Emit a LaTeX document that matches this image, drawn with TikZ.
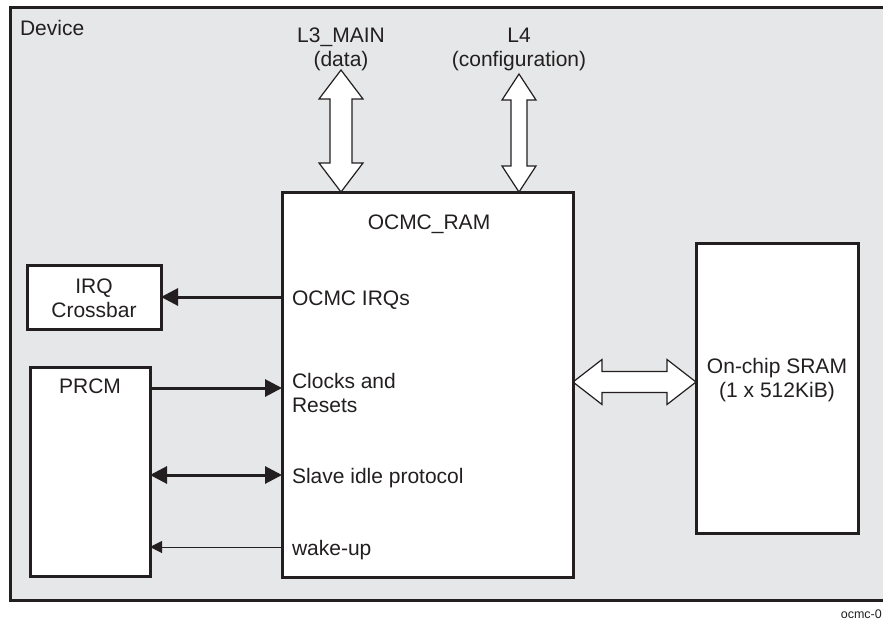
\documentclass[tikz,border=0pt]{standalone}
\usepackage{fontspec}
\setmainfont{Liberation Sans}
\usetikzlibrary{arrows.meta}
\definecolor{devgray}{HTML}{E6E7E8}
\definecolor{ink}{HTML}{231F20}
\tikzset{
  blk/.style={draw=ink, line width=3pt, fill=white, inner sep=0pt, outer sep=0pt},
  lbl/.style={inner sep=0pt, outer sep=0pt, text=ink, font=\fontsize{21}{24}\selectfont},
  thick arrow/.style={draw=ink, line width=3pt, -{Triangle[length=17pt,width=17pt]}},
  thick both/.style={draw=ink, line width=3pt, {Triangle[length=17pt,width=17pt]}-{Triangle[length=17pt,width=17pt]}},
  thin arrow/.style={draw=ink, line width=1pt, -{Triangle[length=12pt,width=12pt]}},
  hollow/.style={draw=ink, line width=1.2pt, fill=white, line join=miter}
}
\begin{document}
\begin{tikzpicture}[x=1pt,y=-1pt]
\useasboundingbox (0,0) rectangle (883,623);
% device
\node[draw=ink, line width=3pt, fill=devgray, inner sep=0pt, minimum width=876pt, minimum height=592pt] (device) at (448,304) {};
\node[lbl, anchor=base west] (devlbl) at (20,36) {Device};
% hollow bus arrows
\draw[hollow] (341,70) -- (363,99) -- (352,99) -- (352,163) -- (363,163) -- (341,192) -- (319,163) -- (330,163) -- (330,99) -- (319,99) -- cycle;
\draw[hollow] (519,74) -- (536,100) -- (527,100) -- (527,166) -- (536,166) -- (519,192) -- (502,166) -- (511,166) -- (511,100) -- (502,100) -- cycle;
\draw[hollow] (573,382) -- (602,359.5) -- (602,371.5) -- (667,371.5) -- (667,359.5) -- (696,382) -- (667,404.5) -- (667,392.5) -- (602,392.5) -- (602,404.5) -- cycle;
% blocks
\node[blk, minimum width=291pt, minimum height=385pt] (ocmc) at (427.5,384.5) {};
\node[blk, minimum width=162pt, minimum height=290pt] (sram) at (777,388) {};
\node[blk, minimum width=120pt, minimum height=209pt] (prcm) at (90,471.5) {};
\node[blk, minimum width=134pt, minimum height=64pt] (irq) at (94,297) {};
% bus labels (base = last line)
\node[lbl, align=center, anchor=base] (l3) at (341,67) {L3\_MAIN\\(data)};
\node[lbl, align=center, anchor=base] (l4) at (519,67) {L4\\(configuration)};
% block labels
\node[lbl, anchor=base] (ocmclbl) at (429,229) {OCMC\_RAM};
\node[lbl, align=center, anchor=base] (sramlbl) at (777,397) {On-chip SRAM\\(1 x 512KiB)};
\node[lbl, align=center, anchor=base] (irqlbl) at (94,317) {IRQ\\Crossbar};
\node[lbl, anchor=base] (prcmlbl) at (90,393) {PRCM};
% port labels
\node[lbl, anchor=base west] (irqs) at (292,305) {OCMC IRQs};
\node[lbl, align=left, anchor=base west] (clk) at (292,412) {Clocks and\\Resets};
\node[lbl, anchor=base west] (idle) at (292,483) {Slave idle protocol};
\node[lbl, anchor=base west] (wake) at (292,555) {wake-up};
% connectors
\coordinate (yclk) at (0,388);
\coordinate (yidle) at (0,475);
\coordinate (ywake) at (0,547);
\draw[thick arrow] (ocmc.west |- irq.east) -- (irq.east);
\draw[thick arrow] (prcm.east |- yclk) -- (ocmc.west |- yclk);
\draw[thick both] (prcm.east |- yidle) -- (ocmc.west |- yidle);
\draw[thin arrow] (ocmc.west |- ywake) -- (prcm.east |- ywake);
% figure tag
\node[inner sep=0pt, text=ink, font=\fontsize{12.5}{14}\selectfont, anchor=base east] (tag) at (882,618) {ocmc-0};
\end{tikzpicture}
\end{document}
